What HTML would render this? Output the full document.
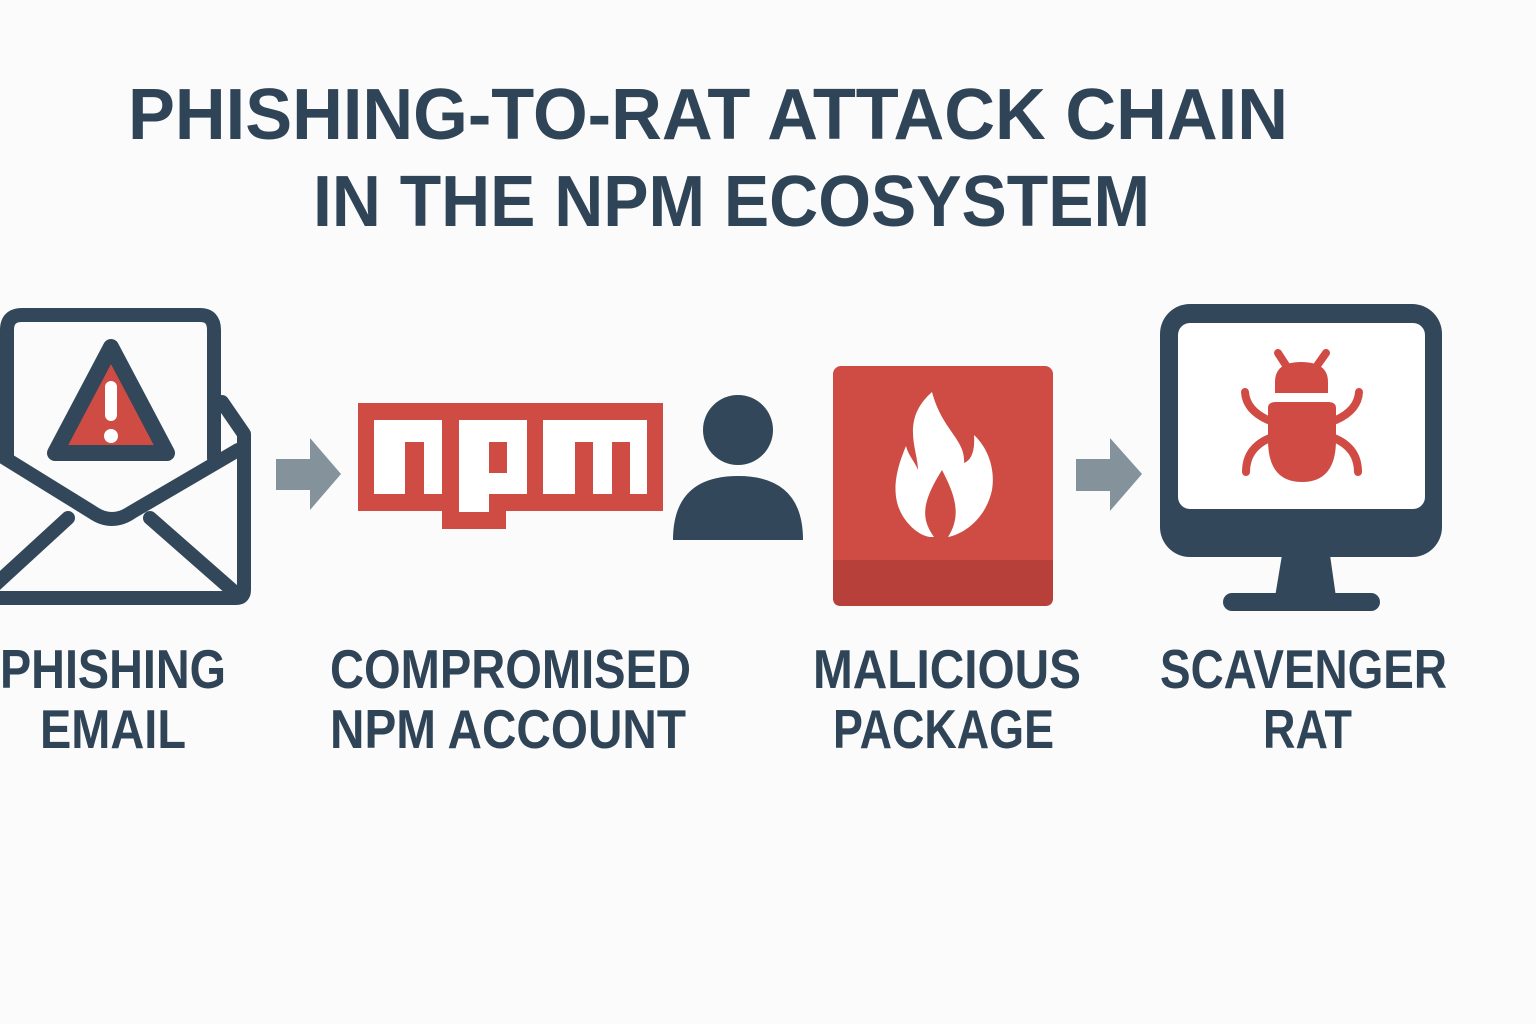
<!DOCTYPE html>
<html><head><meta charset="utf-8"><style>
html,body{margin:0;padding:0;background:#fbfbfb;}
svg{display:block;}
text{font-family:"Liberation Sans",sans-serif;font-weight:bold;fill:#2f4456;}
</style></head><body>
<svg width="1536" height="1024" viewBox="0 0 1536 1024" xmlns="http://www.w3.org/2000/svg">
<rect width="1536" height="1024" fill="#fbfbfb"/>
<text x="128" y="139" font-size="72" textLength="1160" lengthAdjust="spacingAndGlyphs">PHISHING-TO-RAT ATTACK CHAIN</text>
<text x="313" y="226" font-size="72" textLength="837" lengthAdjust="spacingAndGlyphs">IN THE NPM ECOSYSTEM</text>

<g fill="none" stroke="#324759" stroke-width="14" stroke-linejoin="round" stroke-linecap="round">
  <path d="M7,458 L7,330 Q7,315 22,315 L200,315 Q214,315 214,330 L214,458"/>
  <path d="M222,402 L244,434 L244,590 Q244,598 236,598 L-10,598"/>
  <path d="M-5,452 L92,512 Q112,526 132,512 L238,450"/>
  <path d="M-5,585 L68,518"/>
  <path d="M150,518 L232,590"/>
</g>
<path d="M111,347 L167,453 L55,453 Z" fill="#cf4c45" stroke="#324759" stroke-width="16" stroke-linejoin="round"/>
<rect x="105" y="381" width="12" height="40" rx="6" fill="#fff"/>
<circle cx="111" cy="436" r="7" fill="#fff"/>

<path d="M276,459 L310,459 L310,438 L341,474 L310,510 L310,490 L276,490 Z" fill="#84929b"/>

<rect x="358" y="403" width="305" height="108" fill="#cf4c45"/>
<rect x="442" y="505" width="64" height="24" fill="#cf4c45"/>
<g fill="#fff">
  <rect x="374" y="420" width="68" height="74"/>
  <rect x="459" y="420" width="68" height="74"/>
  <rect x="459" y="490" width="30" height="22"/>
  <rect x="543" y="420" width="104" height="74"/>
</g>
<g fill="#cf4c45">
  <rect x="405" y="442" width="19" height="53"/>
  <rect x="489" y="442" width="18" height="31"/>
  <rect x="575" y="442" width="18" height="53"/>
  <rect x="612" y="442" width="18" height="53"/>
</g>

<circle cx="738" cy="430" r="35" fill="#324759"/>
<path d="M673,540 Q673,476 738,476 Q803,476 803,540 Z" fill="#324759"/>

<rect x="833" y="366" width="220" height="240" rx="8" fill="#cf4c45"/>
<path d="M833,560 L1053,560 L1053,598 Q1053,606 1045,606 L841,606 Q833,606 833,598 Z" fill="#b8403a"/>
<path d="M932,392 C900,420 918,450 918,470 C915,462 908,455 906,446 C896,470 885,505 915,530 C925,538 932,537 934,537 C922,520 920,505 942,470 C955,495 962,515 948,537 C960,535 985,522 992,490 C996,465 985,445 974,435 C975,450 972,460 964,463 C966,440 942,430 932,392 Z" fill="#fff"/>

<path d="M1076,459 L1110,459 L1110,438 L1142,474 L1110,511 L1110,491 L1076,491 Z" fill="#84929b"/>

<rect x="1160" y="304" width="282" height="253" rx="30" fill="#324759"/>
<rect x="1178" y="323" width="247" height="186" rx="12" fill="#fff"/>
<path d="M1282,555 L1330,555 L1336,597 L1275,597 Z" fill="#324759"/>
<rect x="1223" y="593" width="157" height="18" rx="9" fill="#324759"/>

<g fill="#d04b44">
  <path d="M1275,393 L1275,382 Q1275,362 1301,362 Q1328,362 1328,382 L1328,393 Z"/>
  <path d="M1268,408 Q1268,402 1276,402 L1328,402 Q1336,402 1336,408 L1336,440 Q1336,482 1302,482 Q1268,482 1268,440 Z"/>
</g>
<g fill="none" stroke="#d04b44" stroke-width="8" stroke-linecap="round">
  <path d="M1278,353 L1289,370"/>
  <path d="M1326,353 L1314,370"/>
  <path d="M1245,392 Q1246,410 1268,420"/>
  <path d="M1359,392 Q1358,410 1336,420"/>
  <path d="M1246,472 Q1246,448 1270,438"/>
  <path d="M1358,472 Q1358,448 1334,438"/>
</g>

<text x="0" y="688" font-size="55" textLength="226" lengthAdjust="spacingAndGlyphs">PHISHING</text>
<text x="40" y="748" font-size="55" textLength="146" lengthAdjust="spacingAndGlyphs">EMAIL</text>
<text x="330" y="688" font-size="55" textLength="361" lengthAdjust="spacingAndGlyphs">COMPROMISED</text>
<text x="330" y="748" font-size="55" textLength="356" lengthAdjust="spacingAndGlyphs">NPM ACCOUNT</text>
<text x="813" y="688" font-size="55" textLength="268" lengthAdjust="spacingAndGlyphs">MALICIOUS</text>
<text x="833" y="748" font-size="55" textLength="221" lengthAdjust="spacingAndGlyphs">PACKAGE</text>
<text x="1160" y="688" font-size="55" textLength="287" lengthAdjust="spacingAndGlyphs">SCAVENGER</text>
<text x="1263" y="748" font-size="55" textLength="89" lengthAdjust="spacingAndGlyphs">RAT</text>
</svg>
</body></html>
